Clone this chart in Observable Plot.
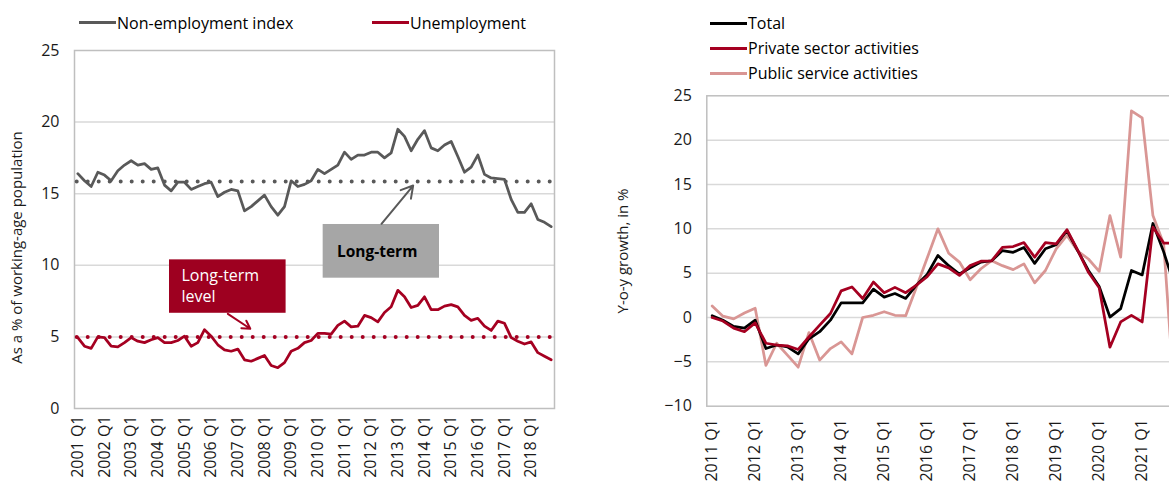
<!DOCTYPE html>
<html><head><meta charset="utf-8">
<script src="https://cdn.jsdelivr.net/npm/d3@7"></script>
<script src="https://cdn.jsdelivr.net/npm/@observablehq/plot@0.6"></script>
<style>
html,body{margin:0;padding:0;background:#fff;overflow:hidden;}
#wrap{position:relative;width:1169px;height:481px;overflow:hidden;font-family:"Open Sans",sans-serif;}
.panel{position:absolute;top:0;}
.item{position:absolute;display:flex;align-items:center;font-size:16px;color:#000;white-space:nowrap;transform:translateY(-50%);}
.sw{display:inline-block;width:37px;height:3px;margin-right:1px;}
</style></head><body><div id="wrap"></div>
<script>
// ---------- LEFT PANEL DATA ----------
const leftTickLabels = ["2001 Q1","2002 Q1","2003 Q1","2004 Q1","2005 Q1","2006 Q1","2007 Q1","2008 Q1","2009 Q1","2010 Q1","2011 Q1","2012 Q1","2013 Q1","2014 Q1","2015 Q1","2016 Q1","2017 Q1","2018 Q1"];
const nonEmployment = [16.4,15.9,15.5,16.5,16.3,15.9,16.6,17.0,17.3,17.0,17.1,16.7,16.8,15.6,15.2,15.8,15.8,15.3,15.5,15.7,15.8,14.8,15.1,15.3,15.2,13.8,14.1,14.5,14.9,14.1,13.5,14.1,15.9,15.5,15.65,15.9,16.7,16.4,16.7,17.0,17.9,17.4,17.7,17.7,17.9,17.9,17.5,17.85,19.5,19.0,18.0,18.8,19.4,18.2,18.0,18.4,18.65,17.6,16.5,16.85,17.7,16.35,16.1,16.05,16.0,14.6,13.7,13.7,14.3,13.2,13.0,12.7];
const unemployment = [4.95,4.35,4.2,5.0,4.95,4.35,4.3,4.6,4.95,4.7,4.6,4.8,4.95,4.6,4.6,4.75,5.05,4.35,4.6,5.5,5.05,4.45,4.1,4.0,4.15,3.4,3.3,3.5,3.7,3.0,2.85,3.2,4.0,4.2,4.6,4.75,5.25,5.25,5.2,5.8,6.1,5.7,5.75,6.5,6.35,6.05,6.7,7.1,8.25,7.8,7.05,7.2,7.8,6.9,6.9,7.15,7.25,7.1,6.5,6.15,6.3,5.75,5.45,6.1,5.95,4.95,4.7,4.5,4.65,3.9,3.65,3.4];
const longTermNonEmployment = [15.85];
const longTermUnemployment = [5.0];
const leftSeriesNames = ["Non-employment index","Unemployment"];
const leftYTicks = [0,5,10,15,20,25];
const leftYLabel = "As a % of working-age population";

// ---------- RIGHT PANEL DATA ----------
const rightTickLabels = ["2011 Q1","2012 Q1","2013 Q1","2014 Q1","2015 Q1","2016 Q1","2017 Q1","2018 Q1","2019 Q1","2020 Q1","2021 Q1"];
const total = [0.2,-0.3,-1.0,-1.2,-0.3,-3.5,-3.1,-3.3,-4.1,-2.4,-1.6,-0.3,1.65,1.65,1.65,3.2,2.3,2.7,2.15,3.65,4.85,7.0,5.85,4.9,5.6,6.25,6.4,7.55,7.35,7.9,6.1,7.75,8.2,9.8,7.55,5.3,3.5,0.05,1.0,5.3,4.8,10.6,7.4,3.6];
const privateSector = [0.0,-0.4,-1.2,-1.6,-0.6,-2.9,-3.1,-3.2,-3.6,-2.2,-0.85,0.45,3.0,3.45,2.15,4.0,2.8,3.4,2.8,3.65,4.6,6.05,5.6,4.75,5.85,6.35,6.4,7.9,8.0,8.45,6.8,8.45,8.3,9.9,7.6,5.1,3.35,-3.35,-0.5,0.25,-0.5,10.2,8.4,8.4];
const publicService = [1.3,0.15,-0.15,0.5,1.05,-5.4,-2.9,-4.25,-5.6,-1.7,-4.8,-3.5,-2.75,-4.1,0.0,0.25,0.65,0.25,0.2,3.4,6.7,10.0,7.25,6.25,4.25,5.5,6.4,5.85,5.4,6.05,3.9,5.3,7.75,9.25,7.5,6.6,5.2,11.5,6.8,23.3,22.5,11.5,8.3,-9.0];
const rightSeriesNames = ["Total","Private sector activities","Public service activities"];
const rightYTicks = [-10,-5,0,5,10,15,20,25];
const rightYLabel = "Y-o-y growth, in %";

// ---------- annotations (data coordinates: quarter index, value) ----------
const greyBox = {x1:36.8, x2:54.25, y1:9.1, y2:12.85, label:"Long-term", tx:44.9, ty:10.96};
const greyArrow = {x1:45.55, y1:12.9, x2:50.3, y2:15.57};
const redBox = {x1:13.75, x2:31.24, y1:6.65, y2:10.38, lines:["Long-term","level"], tx:15.55, ty:[9.29,7.77]};
const redArrow = {x1:22.5, y1:6.61, x2:25.87, y2:5.57};

const GREY = "#595959", RED = "#a50021", PINK = "#d99694", BLACK = "#000000";
const GRID = "#d9d9d9", FRAME = "#bfbfbf";
const FONT = "'Open Sans', sans-serif";

const wrap = document.getElementById("wrap");

// LEFT
const nLeft = nonEmployment.length;
const leftTickIdx = leftTickLabels.map((_, k) => k * 4);
const left = Plot.plot({
  width: 580, height: 481,
  marginLeft: 74, marginRight: 26, marginTop: 50, marginBottom: 73,
  style: {fontFamily: FONT, fontSize: "16px", color: "#1a1a1a", background: "transparent"},
  x: {type: "linear", domain: [-0.5, nLeft - 0.5]},
  y: {domain: [0, 25]},
  marks: [
    Plot.ruleY([5,10,15,20], {stroke: GRID, strokeWidth: 1.5}),
    Plot.frame({stroke: FRAME, strokeWidth: 1.5}),
    Plot.axisY(leftYTicks, {tickSize: 0, tickPadding: 15, fontSize: 16, label: null}),
    Plot.axisX(leftTickIdx, {tickFormat: i => leftTickLabels[i / 4], tickRotate: -90, tickSize: 0, tickPadding: 7, fontSize: 16, label: null}),
    Plot.text([leftYLabel], {frameAnchor: "left", textAnchor: "middle", rotate: -90, dx: -57, dy: 18, fontSize: 15, fill: "#1a1a1a"}),
    Plot.ruleY(longTermNonEmployment, {stroke: GREY, strokeWidth: 4, strokeDasharray: "0 11", strokeLinecap: "round", strokeDashoffset: 8.3}),
    Plot.ruleY(longTermUnemployment, {stroke: RED, strokeWidth: 4, strokeDasharray: "0 11", strokeLinecap: "round", strokeDashoffset: 8.3}),
    Plot.lineY(nonEmployment, {x: (d, i) => i, y: d => d, stroke: GREY, strokeWidth: 2.75}),
    Plot.lineY(unemployment, {x: (d, i) => i, y: d => d, stroke: RED, strokeWidth: 2.75}),
    Plot.rect([greyBox], {x1: "x1", x2: "x2", y1: "y1", y2: "y2", fill: "#a6a6a6"}),
    Plot.text([greyBox], {x: "tx", y: "ty", text: "label", fontWeight: "bold", fontSize: 15.5, fill: "#000"}),
    Plot.arrow([greyArrow], {x1: "x1", y1: "y1", x2: "x2", y2: "y2", stroke: GREY, strokeWidth: 2, headLength: 10}),
    Plot.rect([redBox], {x1: "x1", x2: "x2", y1: "y1", y2: "y2", fill: "#9e0020"}),
    Plot.text(redBox.lines, {x: redBox.tx, y: (d, i) => redBox.ty[i], text: d => d, textAnchor: "start", fontSize: 16, fill: "#fff"}),
    Plot.arrow([redArrow], {x1: "x1", y1: "y1", x2: "x2", y2: "y2", stroke: RED, strokeWidth: 2, headLength: 10})
  ]
});
left.classList.add("panel");
left.style.left = "0px";
wrap.appendChild(left);

// RIGHT
const nRight = total.length;
const rightTickIdx = rightTickLabels.map((_, k) => k * 4);
const right = Plot.plot({
  width: 600, height: 481,
  marginLeft: 106.3, marginRight: 20.7, marginTop: 95.3, marginBottom: 75.3,
  style: {fontFamily: FONT, fontSize: "16px", color: "#1a1a1a", background: "transparent"},
  x: {type: "linear", domain: [-0.5, nRight - 0.5]},
  y: {domain: [-10, 25]},
  marks: [
    Plot.ruleY([-5,0,5,10,15,20], {stroke: GRID, strokeWidth: 1.5}),
    Plot.frame({stroke: FRAME, strokeWidth: 1.5}),
    Plot.axisY(rightYTicks, {tickSize: 0, tickPadding: 15, fontSize: 16, label: null}),
    Plot.axisX(rightTickIdx, {tickFormat: i => rightTickLabels[i / 4], tickRotate: -90, tickSize: 0, tickPadding: 13, fontSize: 16, label: null}),
    Plot.text([rightYLabel], {frameAnchor: "left", textAnchor: "middle", rotate: -90, dx: -84, fontSize: 15, fill: "#1a1a1a"}),
    Plot.lineY(publicService, {x: (d, i) => i, y: d => d, stroke: PINK, strokeWidth: 2.75}),
    Plot.lineY(total, {x: (d, i) => i, y: d => d, stroke: BLACK, strokeWidth: 2.75}),
    Plot.lineY(privateSector, {x: (d, i) => i, y: d => d, stroke: RED, strokeWidth: 2.75})
  ]
});
right.classList.add("panel");
right.style.left = "600px";
wrap.appendChild(right);

// LEGENDS
function legendItem(name, color, x, y) {
  const d = document.createElement("div");
  d.className = "item";
  d.style.left = x + "px";
  d.style.top = y + "px";
  const s = document.createElement("span");
  s.className = "sw";
  s.style.background = color;
  d.appendChild(s);
  d.appendChild(document.createTextNode(name));
  wrap.appendChild(d);
}
legendItem(leftSeriesNames[0], GREY, 79, 22.7);
legendItem(leftSeriesNames[1], RED, 372, 22.7);
legendItem(rightSeriesNames[0], BLACK, 710, 23.3);
legendItem(rightSeriesNames[1], RED, 710, 48.3);
legendItem(rightSeriesNames[2], PINK, 710, 73.3);
</script></body></html>
